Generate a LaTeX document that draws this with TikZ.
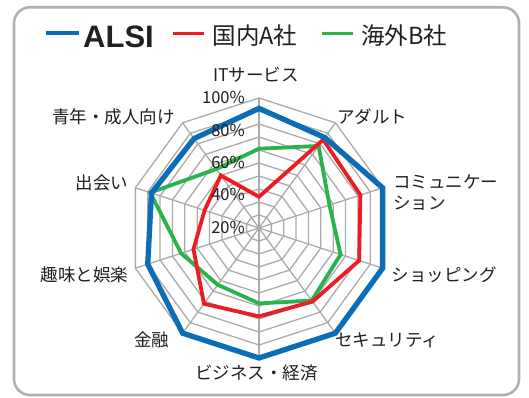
\documentclass[tikz,border=0pt]{standalone}
\usepackage{fontspec}
\setmainfont{Noto Sans CJK JP}
\newfontfamily\alsifont{Liberation Sans}
\definecolor{alsiblue}{HTML}{0B6DB7}
\definecolor{ared}{HTML}{ED1C24}
\definecolor{bgreen}{HTML}{2BB34B}
\definecolor{gridgray}{HTML}{ABABAB}
\definecolor{framegray}{HTML}{B0B0B0}
\definecolor{txt}{HTML}{231F20}
\tikzset{
  gridline/.style={draw=gridgray, line width=1.3pt},
  seriesA/.style={draw=alsiblue, line width=5.3pt, line join=miter},
  seriesB/.style={draw=ared, line width=3.8pt, line join=miter},
  seriesC/.style={draw=bgreen, line width=3.8pt, line join=miter},
  axislabel/.style={inner sep=0pt, text=txt, font=\fontsize{17.5}{21}\selectfont},
  pctlabel/.style={inner sep=0pt, anchor=east, text=txt, font=\fontsize{16.5}{18}\selectfont},
  legendtext/.style={inner sep=0pt, text=txt},
}
\def\R{130}
\begin{document}
\begin{tikzpicture}[x=1pt,y=1pt]
\useasboundingbox (0,0) rectangle (529,398);
\fill[white] (0,0) rectangle (529,398);
\draw[framegray, line width=2.6pt, rounded corners=16pt] (14,3) rectangle (519,390.7);

% legend
\coordinate (la1) at (45.7,364.7); \coordinate (la2) at (79,364.7);
\coordinate (lb1) at (172.7,364.7); \coordinate (lb2) at (204,364.7);
\coordinate (lc1) at (321.7,364.7); \coordinate (lc2) at (353.3,364.7);
\draw[alsiblue, line width=4pt] (la1) -- (la2);
\draw[ared, line width=3.3pt] (lb1) -- (lb2);
\draw[bgreen, line width=3.3pt] (lc1) -- (lc2);
\node[legendtext, anchor=base west] (lgA) at (83,350) {\alsifont\bfseries\fontsize{31}{34}\selectfont ALSI};
\node[legendtext, font=\fontsize{23.5}{26}\selectfont] (lgB) at (255,362.5) {国内A社};
\node[legendtext, font=\fontsize{23.5}{26}\selectfont] (lgC) at (404.2,362.5) {海外B社};

\begin{scope}[shift={(259,170)}]
  \coordinate (ctr) at (0,0);
  % rings
  \foreach \k in {1,...,10} {
    \draw[gridline] (90:{\k*13}) \foreach \a in {54,18,-18,-54,-90,-126,-162,-198,-234} { -- (\a:{\k*13}) } -- cycle;
  }
  % spokes
  \foreach \a in {90,54,18,-18,-54,-90,-126,-162,-198,-234} {
    \draw[gridline] (ctr) -- (\a:\R);
  }
  % series B (green)
  \draw[seriesC] (90:{0.61*\R}) -- (54:{0.78*\R}) -- (18:{0.57*\R}) -- (-18:{0.66*\R}) -- (-54:{0.69*\R})
     -- (-90:{0.58*\R}) -- (-126:{0.54*\R}) -- (-162:{0.63*\R}) -- (162:{0.88*\R}) -- (126:{0.56*\R}) -- cycle;
  % series A (red)
  \draw[seriesB] (90:{0.24*\R}) -- (54:{0.84*\R}) -- (18:{0.82*\R}) -- (-18:{0.81*\R}) -- (-54:{0.70*\R})
     -- (-90:{0.68*\R}) -- (-126:{0.72*\R}) -- (-162:{0.53*\R}) -- (162:{0.44*\R}) -- (126:{0.50*\R}) -- cycle;
  % ALSI (blue)
  \draw[seriesA] (90:{0.92*\R}) -- (54:{0.86*\R}) -- (18:{1.0*\R}) -- (-18:{1.0*\R}) -- (-54:{1.0*\R})
     -- (-90:{1.0*\R}) -- (-126:{1.0*\R}) -- (-162:{0.90*\R}) -- (162:{0.87*\R}) -- (126:{0.85*\R}) -- cycle;
\end{scope}

% percent labels
\node[pctlabel] (p100) at (245,300.5) {100\%};
\node[pctlabel] (p80) at (245,268) {80\%};
\node[pctlabel] (p60) at (245,235.7) {60\%};
\node[pctlabel] (p40) at (245,203.3) {40\%};
\node[pctlabel] (p20) at (245,171) {20\%};

% axis labels
\node[axislabel] (ax1) at (256,323) {ITサービス};
\node[axislabel] (ax2) at (372,281) {アダルト};
\node[axislabel, anchor=west, align=left] (ax3) at (393,205.8) {コミュニケー\\ション};
\node[axislabel, anchor=west] (ax4) at (391.7,123) {ショッピング};
\node[axislabel] (ax5) at (387,58) {セキュリティ};
\node[axislabel] (ax6) at (256.7,24.7) {ビジネス・経済};
\node[axislabel] (ax7) at (151.7,58) {金融};
\node[axislabel, anchor=east] (ax8) at (128.3,123) {趣味と娯楽};
\node[axislabel, anchor=east] (ax9) at (128.3,215) {出会い};
\node[axislabel, anchor=east] (ax10) at (175,280.7) {青年・成人向け};
\end{tikzpicture}
\end{document}
